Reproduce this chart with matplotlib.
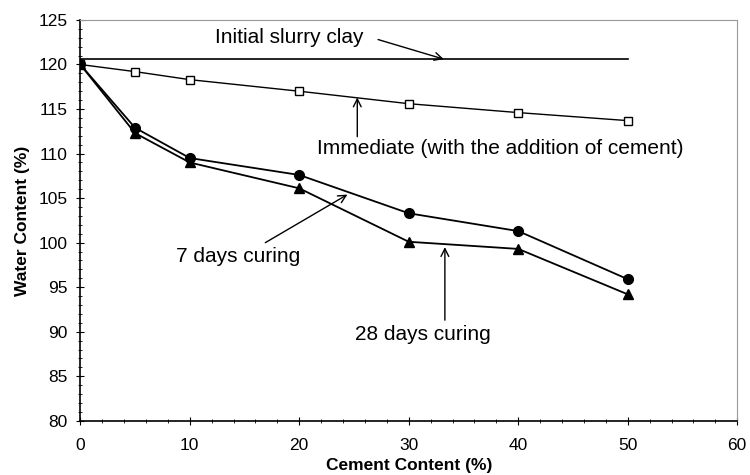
import numpy as np
import matplotlib
matplotlib.use('Agg')
import matplotlib.pyplot as plt

plt.rcParams['font.family'] = ['Liberation Sans', 'DejaVu Sans']

cement = [0, 5, 10, 20, 30, 40, 50]
immediate = [120, 119.2, 118.3, 117.0, 115.6, 114.6, 113.7]
days7 = [120, 112.9, 109.5, 107.6, 103.3, 101.3, 95.9]
days28 = [120, 112.3, 109.0, 106.1, 100.1, 99.3, 94.2]
slurry_x = [0, 50]
slurry_y = [120.6, 120.6]

fig = plt.figure(figsize=(7.5, 4.75), dpi=100)
ax = fig.add_axes([0.107, 0.114, 0.876, 0.844])

ax.plot(slurry_x, slurry_y, color='k', lw=1.2)
ax.plot(cement, immediate, color='k', lw=1.0, marker='s', ms=6, mfc='white', mec='k', mew=1.0)
ax.plot(cement, days7, color='k', lw=1.3, marker='o', ms=7)
ax.plot(cement, days28, color='k', lw=1.3, marker='^', ms=7.5)

ax.set_xlim(0, 60)
ax.set_ylim(80, 125)
ax.set_xticks(np.arange(0, 61, 10))
ax.set_yticks(np.arange(80, 126, 5))
ax.set_xticks(np.arange(0, 61, 2), minor=True)
ax.set_yticks(np.arange(80, 126, 1), minor=True)
ax.tick_params(which='major', direction='inout', length=6, labelsize=12.5)
ax.tick_params(axis='x', which='major', pad=9)
ax.tick_params(axis='y', which='major', pad=6)
ax.tick_params(which='minor', direction='inout', length=2.5)
for s in ['top', 'right']:
    ax.spines[s].set_color('#999999')
for s in ['left', 'bottom']:
    ax.spines[s].set_linewidth(1.2)

ax.set_xlabel('Cement Content (%)', fontweight='bold', fontsize=12.5, labelpad=4)
ax.set_ylabel('Water Content (%)', fontweight='bold', fontsize=12.5, labelpad=6)

arw = dict(arrowstyle='->', color='k', lw=1.0, mutation_scale=14, shrinkA=0, shrinkB=0)
fs = 15
ax.text(12.3, 123.0, 'Initial slurry clay', fontsize=fs, va='center')
ax.annotate('', xy=(33.2, 120.6), xytext=(27.2, 122.8), arrowprops=arw)
ax.text(21.6, 110.6, 'Immediate (with the addition of cement)', fontsize=fs, va='center')
ax.annotate('', xy=(25.3, 116.3), xytext=(25.3, 111.9), arrowprops=arw)
ax.text(8.7, 98.4, '7 days curing', fontsize=fs, va='center')
ax.annotate('', xy=(24.4, 105.4), xytext=(16.9, 100.0), arrowprops=arw)
ax.text(25.1, 89.7, '28 days curing', fontsize=fs, va='center')
ax.annotate('', xy=(33.3, 99.5), xytext=(33.3, 91.3), arrowprops=arw)

plt.savefig('out.png', dpi=100)
